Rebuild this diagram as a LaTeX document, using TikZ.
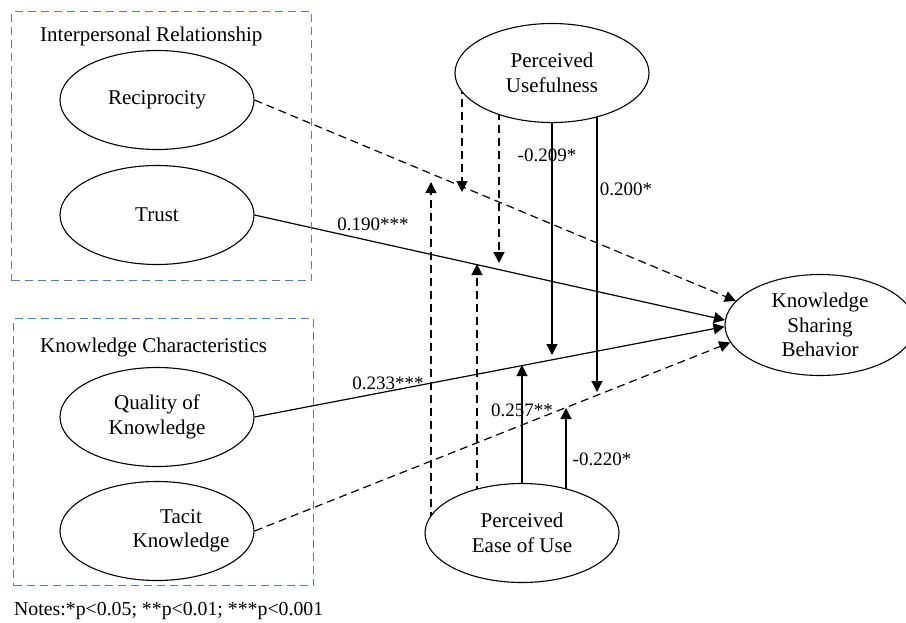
\documentclass[tikz,border=0pt]{standalone}
\usepackage{fontspec}
\setmainfont{Liberation Serif}
\usetikzlibrary{shapes.geometric,arrows.meta,backgrounds}
\definecolor{boxblue}{RGB}{79,129,189}
\newcommand\diagfont{\fontsize{21}{24.5}\selectfont}
\newcommand\numfont{\fontsize{19}{22}\selectfont}
\newcommand\notefont{\fontsize{19.8}{22}\selectfont}
\begin{document}
\begin{tikzpicture}[x=1pt,y=-1pt,
  lat/.style={ellipse,draw,line width=1.1pt,fill=white,minimum width=194pt,minimum height=99pt,inner sep=0pt,align=center,font=\diagfont},
  grp/.style={rectangle,draw=boxblue,line width=1.3pt,dash pattern=on 8pt off 5pt,anchor=north west,inner sep=0pt},
  pathsolid/.style={line width=1.2pt,-{Triangle[length=11pt,width=11pt]}},
  pathdash/.style={pathsolid,dash pattern=on 8pt off 5pt},
  coef/.style={font=\numfont,inner sep=0pt},
  grouptitle/.style={font=\diagfont,anchor=base west,inner sep=0pt}
]
\useasboundingbox (0,0) rectangle (906,622);

% group boxes
\node[grp,minimum width=300pt,minimum height=269pt] (g1) at (11,11) {};
\node[grp,minimum width=300pt,minimum height=267pt] (g2) at (13,318) {};
\node[grouptitle] (g1t) at (40,41) {Interpersonal Relationship};
\node[grouptitle] (g2t) at (40,352) {Knowledge Characteristics};

% latent variables
\node[lat] (rec) at (157,100) {Reciprocity};
\node[lat] (trust) at (157,215) {Trust};
\node[lat] (qual) at (157,417) {Quality of\\Knowledge};
\node[lat,label={[align=center,font=\diagfont,xshift=24pt]center:{Tacit\\Knowledge}}] (tacit) at (157,531) {};
\node[lat] (pu) at (552,73) {Perceived\\Usefulness};
\node[lat] (peou) at (522,533) {Perceived\\Ease of Use};
\node[lat,minimum width=190pt,minimum height=101pt] (ksb) at (820,325) {Knowledge\\Sharing\\Behavior};

% connectors
\begin{scope}[on background layer]
  \draw[pathdash] (rec.east) -- (ksb.164);
  \draw[pathsolid] (trust.east) -- (ksb.177);
  \draw[pathsolid] (qual.east) -- (ksb.181);
  \draw[pathdash] (tacit.east) -- (ksb.191);

  \coordinate (d1) at (462,192);
  \coordinate (d2) at (499,263);
  \coordinate (d3) at (552,355);
  \coordinate (d4) at (597,392);
  \coordinate (u1) at (431,182);
  \coordinate (u2) at (477,264);
  \coordinate (u3) at (522,365);
  \coordinate (u4) at (566,408);

  \draw[pathdash] (pu.center -| d1) -- (d1);
  \draw[pathdash] (pu.center -| d2) -- (d2);
  \draw[pathsolid] (pu.center -| d3) -- (d3);
  \draw[pathsolid] (pu.center -| d4) -- (d4);
  \draw[pathdash] (peou.center -| u1) -- (u1);
  \draw[pathdash] (peou.center -| u2) -- (u2);
  \draw[pathsolid] (peou.center -| u3) -- (u3);
  \draw[pathsolid] (peou.center -| u4) -- (u4);
\end{scope}

% coefficients
\node[coef] (c1) at (373,224) {0.190***};
\node[coef] (c2) at (388,383) {0.233***};
\node[coef] (c3) at (547,155) {-0.209*};
\node[coef] (c4) at (626,189) {0.200*};
\node[coef] (c5) at (522,410) {0.257**};
\node[coef] (c6) at (602,459) {-0.220*};

\node[font=\notefont,anchor=base west,inner sep=0pt] (notes) at (14,615) {Notes:*p<0.05; **p<0.01; ***p<0.001};
\end{tikzpicture}
\end{document}
